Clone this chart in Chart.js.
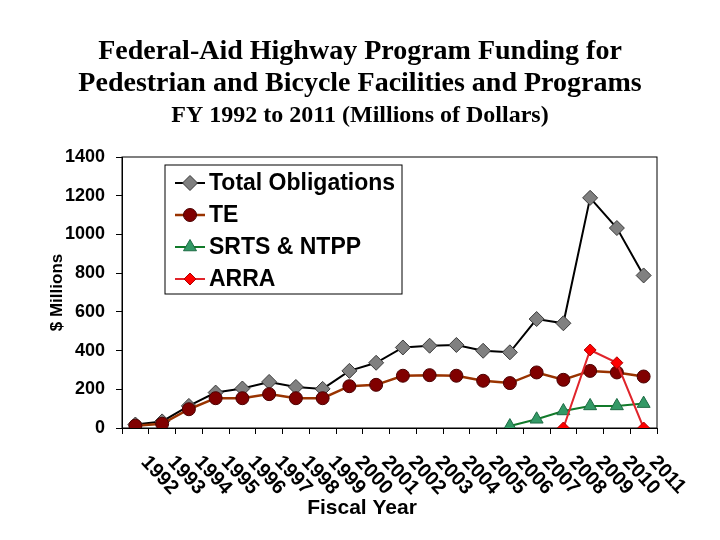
<!DOCTYPE html>
<html>
<head>
<meta charset="utf-8">
<title>Federal-Aid Highway Program Funding</title>
<script src="https://cdn.jsdelivr.net/npm/chart.js@4.4.1/dist/chart.umd.min.js"></script>
<style>
  html, body { margin: 0; padding: 0; background: #fff; }
</style>
</head>
<body>
<canvas id="myChart" width="720" height="540"></canvas>
<script>
// values (millions of dollars)
var years = ['1992', '1993', '1994', '1995', '1996', '1997', '1998', '1999', '2000', '2001',
             '2002', '2003', '2004', '2005', '2006', '2007', '2008', '2009', '2010', '2011'];
var totalObligations = [18, 34, 114, 183, 204, 238, 212, 202, 295, 337,
                        416, 425, 429, 399, 391, 563, 541, 1189, 1033, 788];
var teFunding = [12, 22, 97, 154, 154, 175, 154, 154, 216, 223,
                 270, 273, 270, 244, 232, 287, 249, 295, 287, 266];
var srtsNtpp = [null, null, null, null, null, null, null, null, null, null,
                null, null, null, null, 10, 45, 88, 114, 114, 126];
var arraFunding = [null, null, null, null, null, null, null, null, null, null,
                   null, null, null, null, null, null, 0, 403, 337, 0];
var yMin = 0;
var yMax = 1400;
var yStep = 200;

var sansFont = "Arial, 'Liberation Sans', sans-serif";
var serifFont = "'Times New Roman', 'Liberation Serif', serif";

// black frame round the plot area
var plotFrame = {
  id: 'plotFrame',
  beforeDatasetsDraw: function (chart) {
    var a = chart.chartArea;
    var ctx = chart.ctx;
    ctx.save();
    ctx.strokeStyle = '#000';
    ctx.lineWidth = 1;
    ctx.strokeRect(a.left, a.top, a.right - a.left, a.bottom - a.top);
    ctx.restore();
  }
};

// year labels slant down to the right, so they are drawn here
var slantedYears = {
  id: 'slantedYears',
  afterDraw: function (chart) {
    var ctx = chart.ctx;
    var xs = chart.scales.x;
    ctx.save();
    ctx.fillStyle = '#000';
    ctx.font = 'bold 20px ' + sansFont;
    ctx.textAlign = 'left';
    ctx.textBaseline = 'middle';
    years.forEach(function (yr, i) {
      var x = xs.getPixelForValue(i);
      ctx.save();
      ctx.translate(x + 9, xs.top + 31);
      ctx.rotate(47 * Math.PI / 180);
      ctx.fillText(yr, 0, 0);
      ctx.restore();
    });
    ctx.font = 'bold 21px ' + sansFont;
    ctx.textAlign = 'center';
    ctx.fillText('Fiscal Year', chart.width / 2 + 2, 508);
    ctx.restore();
  }
};

// boxed legend sitting inside the plot
var boxLegend = {
  id: 'boxLegend',
  afterDatasetsDraw: function (chart) {
    var ctx = chart.ctx;
    var a = chart.chartArea;
    var left = a.left + 43, top = a.top + 8, w = 237, h = 129;
    ctx.save();
    ctx.fillStyle = '#fff';
    ctx.fillRect(left, top, w, h);
    ctx.strokeStyle = '#000';
    ctx.lineWidth = 1;
    ctx.strokeRect(left, top, w, h);
    ctx.font = 'bold 23px ' + sansFont;
    ctx.textBaseline = 'middle';
    ctx.textAlign = 'left';
    chart.data.datasets.forEach(function (ds, i) {
      var y = top + 18 + i * 32;
      ctx.strokeStyle = ds.borderColor;
      ctx.lineWidth = ds.borderWidth;
      ctx.beginPath();
      ctx.moveTo(left + 10, y);
      ctx.lineTo(left + 40, y);
      ctx.stroke();
      ctx.fillStyle = ds.pointBackgroundColor;
      ctx.strokeStyle = ds.pointBorderColor;
      ctx.lineWidth = ds.pointBorderWidth;
      Chart.helpers.drawPoint(ctx, {
        pointStyle: ds.pointStyle,
        radius: ds.pointRadius,
        rotation: 0,
        borderWidth: ds.pointBorderWidth
      }, left + 25, y);
      ctx.fillStyle = '#000';
      ctx.fillText(ds.label, left + 44, y + 1);
    });
    ctx.restore();
  }
};

var ctx = document.getElementById('myChart').getContext('2d');
var chart = new Chart(ctx, {
  type: 'line',
  data: {
    labels: years,
    // later series sit on top, as in the original
    datasets: [{
      label: 'Total Obligations',
      data: totalObligations,
      order: 4,
      borderColor: '#000000',
      borderWidth: 2,
      pointStyle: 'rectRot',
      pointRadius: 7.5,
      pointBackgroundColor: '#808080',
      pointBorderColor: '#3a3a3a',
      pointBorderWidth: 1
    }, {
      label: 'TE',
      data: teFunding,
      order: 3,
      borderColor: '#993300',
      borderWidth: 2.5,
      pointStyle: 'circle',
      pointRadius: 6.5,
      pointBackgroundColor: '#800000',
      pointBorderColor: '#4a0000',
      pointBorderWidth: 1
    }, {
      label: 'SRTS & NTPP',
      data: srtsNtpp,
      order: 2,
      borderColor: '#117a2a',
      borderWidth: 2,
      pointStyle: 'triangle',
      pointRadius: 7.5,
      pointBackgroundColor: '#339966',
      pointBorderColor: '#1d6b44',
      pointBorderWidth: 1
    }, {
      label: 'ARRA',
      data: arraFunding,
      order: 1,
      borderColor: '#e0242b',
      borderWidth: 2,
      pointStyle: 'rectRot',
      pointRadius: 6,
      pointBackgroundColor: '#ff0000',
      pointBorderColor: '#b00000',
      pointBorderWidth: 1
    }]
  },
  options: {
    responsive: false,
    animation: false,
    devicePixelRatio: 1,
    layout: { padding: 0 },
    elements: { line: { tension: 0 } },
    plugins: {
      legend: { display: false },
      tooltip: { enabled: false },
      title: {
        display: true,
        text: ['Federal-Aid Highway Program Funding for',
               'Pedestrian and Bicycle Facilities and Programs'],
        color: '#000',
        font: { family: serifFont, size: 28, weight: 'bold', lineHeight: '32px' },
        padding: { top: 36, bottom: 0 }
      },
      subtitle: {
        display: true,
        text: 'FY 1992 to 2011 (Millions of Dollars)',
        color: '#000',
        font: { family: serifFont, size: 24, weight: 'bold', lineHeight: '28px' },
        padding: { top: 2, bottom: 27 }
      }
    },
    scales: {
      x: {
        type: 'category',
        offset: true,
        grid: { offset: true, drawOnChartArea: false, tickLength: 6, color: '#000' },
        border: { color: '#000' },
        ticks: { display: false },
        afterFit: function (scale) { scale.height = 112; }
      },
      y: {
        min: yMin,
        max: yMax,
        ticks: {
          stepSize: yStep,
          color: '#000',
          padding: 11,
          font: { family: sansFont, size: 18, weight: 'bold' },
          callback: function (v) { return String(v); }
        },
        grid: { drawOnChartArea: false, tickLength: 6, color: '#000' },
        border: { color: '#000' },
        title: {
          display: true,
          text: '$ Millions',
          color: '#000',
          font: { family: sansFont, size: 17, weight: 'bold' },
          padding: { top: 47, bottom: 0 }
        },
        afterFit: function (scale) { scale.width = 122; }
      },
      // empty right-hand strip so the titles stay centred on the page
      yRight: {
        position: 'right',
        min: yMin,
        max: yMax,
        ticks: { display: false },
        grid: { display: false },
        border: { display: false },
        afterFit: function (scale) { scale.width = 63; }
      }
    }
  },
  plugins: [plotFrame, slantedYears, boxLegend]
});
</script>
</body>
</html>
